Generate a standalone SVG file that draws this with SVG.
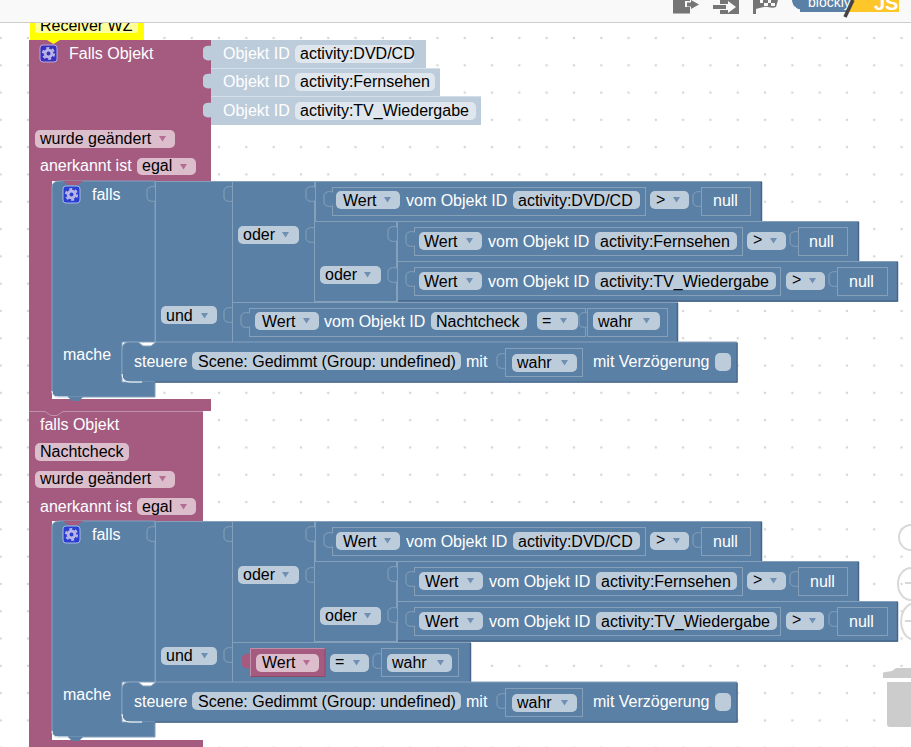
<svg xmlns="http://www.w3.org/2000/svg" xmlns:xlink="http://www.w3.org/1999/xlink" width="911" height="747" viewBox="0 0 911 747">
<style>
text{font-family:"Liberation Sans",Arial,sans-serif;font-size:16px;fill:#fff}
.k{fill:#000}
.b{fill:#5b80a5;stroke:#84a0bb;stroke-width:1}
.dk{fill:none;stroke:#47658a;stroke-width:1.500}
.in{fill:none;stroke:#86a0ba;stroke-width:1}
.pb{fill:#bdccdb}
.pm{fill:#dbbdcc}
.pf{fill:#dfe6ed}
.am{fill:#a55b80}
.ab{fill:#5b80a5}
.sock{fill:#5b80a5;stroke:#86a0ba;stroke-width:1}
.ad{fill:#6f90b3}
.sd{fill:#b46d90}
.gi{fill:#757575}
.ctl{fill:none;stroke:#d8d8d8;stroke-width:2}
</style>
<defs>
<pattern id="grid" patternUnits="userSpaceOnUse" x="-13" y="-3" width="27.3" height="27.3"><circle cx="13.65" cy="13.65" r="1.3" fill="#d6d6d6"/></pattern>
<path id="tab" d="M9,0C4,-1 1,0 0,3V11C1,14 4,15 9,14z"/>
<path id="sk" d="M9,0C4,-1 1,0 0,3V11C1,14 4,15 9,14"/>
<path id="ar" d="M0,0h7l-3.500,5.500z"/>
<g id="gear"><circle cx="0" cy="0" r="3.400" fill="none" stroke="#b9b6e6" stroke-width="2.800"/><circle cx="0" cy="0" r="5.600" fill="none" stroke="#b9b6e6" stroke-width="2" stroke-dasharray="3 2.860"/></g>
</defs>
<rect width="911" height="747" fill="#fff"/>
<rect y="23" width="911" height="724" fill="url(#grid)"/>
<g id="toolbar">
<rect width="911" height="22" fill="#f9f9f9"/>
<rect y="22" width="911" height="1" fill="#ccc"/>
<path class="gi" d="M673,0h17v1h-5v6h5v6.500h-17z"/>
<path class="gi" d="M691,0l8,4.500l-8,4.500v-2.500h-4v-4h4z"/>
<path class="gi" d="M720,0h19v14h-19v-4h8v3l8,-6l-8,-6v3h-8z"/>
<path class="gi" d="M713,5h13v4h-13z"/>
<path class="gi" d="M753,0h3v14h-3z"/>
<path class="gi" d="M756,0h22l-2,7c-5,2 -8,-1 -12,0c-3,1 -6,1 -8,2z"/>
<path d="M760,0h3v3h-3zM768,0h3v3h-3zM764,3h4v3h-4zM771,3h4v3h-4z" fill="#f9f9f9"/>
<path fill="#5b80a5" d="M792,0h62l-7,12H800v-3c-2,1 -4,-2 -6,-3c-1,-2 -2,-4 -2,-6z"/>
<path fill="#ffc629" d="M853,0h46v12h-53z"/>
<text x="808" y="7" style="font-size:14px">blockly</text>
<text x="874" y="10" style="font-size:20px;font-weight:bold">JS</text>
<path d="M853,0L845,17" stroke="#444" stroke-width="3.500" fill="none"/>
</g>
<g id="controls">
<path class="ctl" d="M911,525a12,12.500 0 0 0 0,25"/>
<path class="ctl" d="M911,568a13,16 0 0 0 0,32 M905,583h6"/>
<path class="ctl" d="M911,604a13,18 0 0 0 0,35 M905,621h6"/>
<path fill="#ccc" d="M883,678v-5q0,-1 3,-1l6,-1l4,-3h15v10z M887,682h24v45h-21q-3,0 -3,-3z"/>
</g>

<g id="comment">
<rect x="30" y="23" width="114" height="17" fill="#ff0"/>
<path d="M47,40h13l-6.500,4z" fill="#ff0"/>
<path d="M35,23h103v7a3,3 0 0 1 -3,3H38a3,3 0 0 1 -3,-3z" fill="#ffff9c"/>
<clipPath id="cc"><rect x="30" y="23" width="114" height="17"/></clipPath>
<text class="k" x="40" y="31" clip-path="url(#cc)">Receiver WZ</text>
</g>

<g id="trigger1">
<path class="am" d="M29,40H211V181H52V399H211V411H29Z"/>
<path d="M47,40h13l-6.500,4z" fill="#ff0"/>
<g class="pb">
<rect x="211" y="40" width="215" height="28"/><rect x="211" y="68" width="229" height="28"/><rect x="211" y="97" width="270" height="28"/>
<use xlink:href="#tab" x="203" y="46"/><use xlink:href="#tab" x="203" y="74"/><use xlink:href="#tab" x="203" y="103"/>
</g>
<path d="M211,68.500h229M211,96.500h270" stroke="#d3dee8"/>
<rect x="40" y="45" width="17" height="17" rx="3" fill="#3b2fc0" stroke="#b7a9dd"/>
<use xlink:href="#gear" x="48.500" y="53.500"/>
<text x="69" y="59">Falls Objekt</text>
<text x="223" y="59">Objekt ID</text><text x="223" y="87">Objekt ID</text><text x="223" y="116">Objekt ID</text>
<rect class="pf" x="295" y="45" width="119" height="18" rx="5"/><text class="k" x="300" y="59">activity:DVD/CD</text>
<rect class="pf" x="295" y="73" width="140" height="18" rx="5"/><text class="k" x="300" y="87">activity:Fernsehen</text>
<rect class="pf" x="295" y="102" width="181" height="18" rx="5"/><text class="k" x="300" y="116">activity:TV_Wiedergabe</text>
<rect class="pm" x="35" y="130" width="140" height="18" rx="5"/><text class="k" x="40" y="144">wurde geändert</text><use class="sd" xlink:href="#ar" x="159" y="136"/>
<text x="40" y="171">anerkannt ist</text>
<rect class="pm" x="137" y="158" width="59" height="17" rx="5"/><text class="k" x="142" y="171">egal</text><use class="sd" xlink:href="#ar" x="180" y="164"/>
</g>

<g id="if1">
<path class="b" d="M60,181H155V342H122V382H155V397H58q-6,0 -6,-6V187q0,-6 8,-6z"/>
<path d="M63,181l5,4h10l5,-4z" fill="#a55b80"/>
<path class="ab" d="M68,397l4,4h7l4,-4z"/>
<path d="M52,391q0,6 6,6h10" fill="none" stroke="#fff" stroke-width="1"/>
<rect x="63" y="186" width="17" height="17" rx="3" fill="#2a3fd0" stroke="#a8b8e8"/>
<use xlink:href="#gear" x="71.500" y="194.500"/>
<text x="92" y="200">falls</text>
<text x="63" y="360">mache</text>
<use class="sock" xlink:href="#sk" x="147" y="187"/>
</g>
<g id="and1">
<rect class="b" x="155.500" y="181.500" width="77" height="161"/>
<rect class="pb" x="161" y="306" width="56" height="18" rx="5"/><text class="k" x="166" y="321">und</text><use class="ad" xlink:href="#ar" x="201" y="313"/>
<use class="sock" xlink:href="#sk" x="224" y="187"/><use class="sock" xlink:href="#sk" x="224" y="308"/>
</g>
<g id="or1">
<rect class="b" x="232.500" y="181.500" width="82" height="121"/>
<rect class="pb" x="238" y="226" width="61" height="18" rx="5"/><text class="k" x="243" y="240">oder</text><use class="ad" xlink:href="#ar" x="282" y="232"/>
<use class="sock" xlink:href="#sk" x="306" y="187"/><use class="sock" xlink:href="#sk" x="306" y="228"/>
</g>
<g id="or1b">
<rect class="b" x="314.500" y="221.500" width="82" height="80"/>
<rect class="pb" x="320" y="266" width="61" height="18" rx="5"/><text class="k" x="325" y="280">oder</text><use class="ad" xlink:href="#ar" x="364" y="272"/>
<use class="sock" xlink:href="#sk" x="388" y="227"/><use class="sock" xlink:href="#sk" x="388" y="268"/>
</g>
<g id="cmp1a">
<rect class="b" x="315.500" y="181.500" width="446" height="40"/>
<path class="dk" d="M761.500,182V221"/>
<rect class="in" x="332.500" y="187.500" width="313" height="28"/>
<use class="sock" xlink:href="#sk" x="324" y="192"/>
<rect class="pb" x="336" y="191" width="64" height="18" rx="5"/><text class="k" x="343" y="206">Wert</text><use class="ad" xlink:href="#ar" x="384" y="197"/>
<text x="406" y="206">vom Objekt ID</text>
<rect class="pb" x="513" y="191" width="127" height="18" rx="5"/><text class="k" x="518" y="206">activity:DVD/CD</text>
<rect class="pb" x="650" y="191" width="39" height="18" rx="5"/><text class="k" x="656" y="205">&gt;</text><use class="ad" xlink:href="#ar" x="673" y="197"/>
<use class="sock" xlink:href="#sk" x="693" y="192"/>
<rect class="in" x="701.500" y="187.500" width="49" height="28"/><text x="713" y="206">null</text>
</g>
<g id="cmp1b">
<rect class="b" x="397.500" y="221.500" width="461" height="40"/>
<path class="dk" d="M858.500,222V261"/>
<rect class="in" x="414.500" y="227.500" width="328" height="28"/>
<use class="sock" xlink:href="#sk" x="406" y="232"/>
<rect class="pb" x="419" y="232" width="63" height="18" rx="5"/><text class="k" x="424" y="247">Wert</text><use class="ad" xlink:href="#ar" x="466" y="238"/>
<text x="488" y="247">vom Objekt ID</text>
<rect class="pb" x="595" y="232" width="142" height="18" rx="5"/><text class="k" x="600" y="247">activity:Fernsehen</text>
<rect class="pb" x="747" y="232" width="39" height="18" rx="5"/><text class="k" x="753" y="245">&gt;</text><use class="ad" xlink:href="#ar" x="770" y="238"/>
<use class="sock" xlink:href="#sk" x="790" y="232"/>
<rect class="in" x="798.500" y="227.500" width="49" height="28"/><text x="809" y="247">null</text>
</g>
<g id="cmp1c">
<rect class="b" x="397.500" y="261.500" width="500" height="40"/>
<path class="dk" d="M897.500,262V301H398"/>
<rect class="in" x="414.500" y="267.500" width="366" height="28"/>
<use class="sock" xlink:href="#sk" x="406" y="272"/>
<rect class="pb" x="419" y="272" width="63" height="18" rx="5"/><text class="k" x="424" y="287">Wert</text><use class="ad" xlink:href="#ar" x="466" y="278"/>
<text x="488" y="287">vom Objekt ID</text>
<rect class="pb" x="595" y="272" width="181" height="18" rx="5"/><text class="k" x="600" y="287">activity:TV_Wiedergabe</text>
<rect class="pb" x="786" y="272" width="39" height="18" rx="5"/><text class="k" x="792" y="285">&gt;</text><use class="ad" xlink:href="#ar" x="809" y="278"/>
<use class="sock" xlink:href="#sk" x="829" y="272"/>
<rect class="in" x="837.500" y="267.500" width="50" height="28"/><text x="849" y="287">null</text>
</g>
<g id="cmp1d">
<rect class="b" x="232.500" y="302.500" width="445" height="40"/>
<path class="dk" d="M677.500,303V342"/>
<rect class="in" x="249.500" y="308.500" width="336" height="28"/>
<use class="sock" xlink:href="#sk" x="241" y="313"/>
<rect class="pb" x="255" y="312" width="64" height="18" rx="5"/><text class="k" x="262" y="327">Wert</text><use class="ad" xlink:href="#ar" x="303" y="318"/>
<text x="324" y="327">vom Objekt ID</text>
<rect class="pb" x="431" y="312" width="96" height="18" rx="5"/><text class="k" x="436" y="327">Nachtcheck</text>
<rect class="pb" x="537" y="312" width="41" height="18" rx="5"/><text class="k" x="542" y="326">=</text><use class="ad" xlink:href="#ar" x="560" y="318"/>
<use class="sock" xlink:href="#sk" x="579" y="313"/>
<rect class="in" x="587.500" y="308.500" width="80" height="28"/>
<rect class="pb" x="593" y="312" width="67" height="18" rx="5"/><text class="k" x="598" y="327">wahr</text><use class="ad" xlink:href="#ar" x="643" y="318"/>
</g>
<g id="steuere1">
<path class="b" d="M130,342H138l5,4h8l5,-4H737V382H130q-8,0 -8,-8V350q0,-8 8,-8z"/>
<path class="dk" d="M737,343V382H155"/>
<path class="ab" d="M142,382l4,4h6l4,-4z"/>
<path d="M122,374q0,8 8,8h12" fill="none" stroke="#fff"/>
<text x="134" y="367">steuere</text>
<rect class="pb" x="192" y="352" width="269" height="18" rx="5"/><text class="k" x="198" y="367">Scene: Gedimmt (Group: undefined)</text>
<text x="466" y="367">mit</text>
<use class="sock" xlink:href="#sk" x="497" y="354"/>
<rect class="in" x="505.500" y="348.500" width="77" height="28"/>
<rect class="pb" x="512" y="354" width="65" height="18" rx="5"/><text class="k" x="517" y="368">wahr</text><use class="ad" xlink:href="#ar" x="561" y="360"/>
<text x="593" y="367">mit Verzögerung</text>
<rect class="pb" x="715" y="353" width="16" height="18" rx="5"/>
</g>

<g id="trigger2">
<path class="am" d="M29,411H203V521H52V740H203V747H29Z"/>
<path d="M29,411.500H45l6,4h6l6,-4H203" fill="none" stroke="#c08fa8"/>
<text x="40" y="430">falls Objekt</text>
<rect class="pm" x="35" y="443" width="94" height="18" rx="5"/><text class="k" x="40" y="457">Nachtcheck</text>
<rect class="pm" x="35" y="471" width="140" height="17" rx="5"/><text class="k" x="40" y="484">wurde geändert</text><use class="sd" xlink:href="#ar" x="159" y="476"/>
<text x="40" y="512">anerkannt ist</text>
<rect class="pm" x="137" y="498" width="59" height="17" rx="5"/><text class="k" x="142" y="512">egal</text><use class="sd" xlink:href="#ar" x="180" y="504"/>
</g>

<g id="if2">
<path class="b" d="M60,521H155V682H122V722H155V737H58q-6,0 -6,-6V527q0,-6 8,-6z"/>
<path d="M63,521l5,4h10l5,-4z" fill="#a55b80"/>
<path class="ab" d="M68,737l4,4h7l4,-4z"/>
<path d="M52,731q0,6 6,6h10" fill="none" stroke="#fff" stroke-width="1"/>
<rect x="63" y="526" width="17" height="17" rx="3" fill="#2a3fd0" stroke="#a8b8e8"/>
<use xlink:href="#gear" x="71.500" y="534.500"/>
<text x="92" y="540">falls</text>
<text x="63" y="700">mache</text>
<use class="sock" xlink:href="#sk" x="147" y="527"/>
</g>
<g id="and2">
<rect class="b" x="155.500" y="521.500" width="77" height="161"/>
<rect class="pb" x="161" y="647" width="56" height="18" rx="5"/><text class="k" x="166" y="661">und</text><use class="ad" xlink:href="#ar" x="201" y="653"/>
<use class="sock" xlink:href="#sk" x="224" y="527"/><use class="sock" xlink:href="#sk" x="224" y="648"/>
</g>
<g id="or2">
<rect class="b" x="232.500" y="521.500" width="82" height="121"/>
<rect class="pb" x="238" y="566" width="61" height="18" rx="5"/><text class="k" x="243" y="580">oder</text><use class="ad" xlink:href="#ar" x="282" y="572"/>
<use class="sock" xlink:href="#sk" x="306" y="527"/><use class="sock" xlink:href="#sk" x="306" y="568"/>
</g>
<g id="or2b">
<rect class="b" x="314.500" y="561.500" width="82" height="80"/>
<rect class="pb" x="320" y="607" width="61" height="18" rx="5"/><text class="k" x="325" y="621">oder</text><use class="ad" xlink:href="#ar" x="364" y="613"/>
<use class="sock" xlink:href="#sk" x="388" y="567"/><use class="sock" xlink:href="#sk" x="388" y="608"/>
</g>
<g id="cmp2a">
<rect class="b" x="315.500" y="521.500" width="446" height="40"/>
<path class="dk" d="M761.500,522V561"/>
<rect class="in" x="332.500" y="527.500" width="313" height="28"/>
<use class="sock" xlink:href="#sk" x="324" y="533"/>
<rect class="pb" x="336" y="532" width="64" height="18" rx="5"/><text class="k" x="343" y="547">Wert</text><use class="ad" xlink:href="#ar" x="384" y="538"/>
<text x="406" y="547">vom Objekt ID</text>
<rect class="pb" x="513" y="532" width="127" height="18" rx="5"/><text class="k" x="518" y="547">activity:DVD/CD</text>
<rect class="pb" x="650" y="532" width="39" height="18" rx="5"/><text class="k" x="656" y="545">&gt;</text><use class="ad" xlink:href="#ar" x="673" y="538"/>
<use class="sock" xlink:href="#sk" x="693" y="533"/>
<rect class="in" x="701.500" y="527.500" width="49" height="28"/><text x="713" y="547">null</text>
</g>
<g id="cmp2b">
<rect class="b" x="397.500" y="561.500" width="461" height="40"/>
<path class="dk" d="M858.500,562V601"/>
<rect class="in" x="414.500" y="567.500" width="328" height="28"/>
<use class="sock" xlink:href="#sk" x="406" y="572"/>
<rect class="pb" x="419" y="572" width="64" height="18" rx="5"/><text class="k" x="425" y="587">Wert</text><use class="ad" xlink:href="#ar" x="467" y="578"/>
<text x="489" y="587">vom Objekt ID</text>
<rect class="pb" x="596" y="572" width="141" height="18" rx="5"/><text class="k" x="601" y="587">activity:Fernsehen</text>
<rect class="pb" x="747" y="572" width="39" height="18" rx="5"/><text class="k" x="753" y="585">&gt;</text><use class="ad" xlink:href="#ar" x="770" y="578"/>
<use class="sock" xlink:href="#sk" x="790" y="572"/>
<rect class="in" x="798.500" y="567.500" width="49" height="28"/><text x="810" y="587">null</text>
</g>
<g id="cmp2c">
<rect class="b" x="397.500" y="601.500" width="500" height="40"/>
<path class="dk" d="M897.500,602V641H398"/>
<rect class="in" x="414.500" y="607.500" width="366" height="28"/>
<use class="sock" xlink:href="#sk" x="406" y="612"/>
<rect class="pb" x="419" y="612" width="64" height="18" rx="5"/><text class="k" x="425" y="627">Wert</text><use class="ad" xlink:href="#ar" x="467" y="618"/>
<text x="489" y="627">vom Objekt ID</text>
<rect class="pb" x="596" y="612" width="181" height="18" rx="5"/><text class="k" x="601" y="627">activity:TV_Wiedergabe</text>
<rect class="pb" x="786" y="612" width="38" height="18" rx="5"/><text class="k" x="792" y="625">&gt;</text><use class="ad" xlink:href="#ar" x="809" y="618"/>
<use class="sock" xlink:href="#sk" x="829" y="612"/>
<rect class="in" x="837.500" y="607.500" width="50" height="28"/><text x="849" y="627">null</text>
</g>
<g id="cmp2d">
<rect class="b" x="232.500" y="642.500" width="238" height="40"/>
<path class="dk" d="M470.500,643V682"/>
<use class="am" xlink:href="#tab" x="242" y="654"/>
<rect x="250" y="648" width="75" height="29" fill="#a55b80"/>
<path d="M250.500,677V648.500H325" fill="none" stroke="#c08fa8"/>
<path d="M325,648.500V676.500H250.500" fill="none" stroke="#8a4a6a"/>
<rect class="pm" x="256" y="654" width="63" height="18" rx="5"/><text class="k" x="262" y="668">Wert</text><use class="sd" xlink:href="#ar" x="303" y="660"/>
<rect class="pb" x="330" y="654" width="39" height="18" rx="5"/><text class="k" x="335" y="667">=</text><use class="ad" xlink:href="#ar" x="353" y="660"/>
<use class="sock" xlink:href="#sk" x="373" y="654"/>
<rect class="in" x="381.500" y="648.500" width="77" height="28"/>
<rect class="pb" x="387" y="654" width="65" height="18" rx="5"/><text class="k" x="392" y="668">wahr</text><use class="ad" xlink:href="#ar" x="437" y="660"/>
</g>
<g id="steuere2">
<path class="b" d="M130,682H138l5,4h8l5,-4H737V722H130q-8,0 -8,-8V690q0,-8 8,-8z"/>
<path class="dk" d="M737,683V722H155"/>
<path class="ab" d="M142,722l4,4h6l4,-4z"/>
<path d="M122,714q0,8 8,8h12" fill="none" stroke="#fff"/>
<text x="134" y="707">steuere</text>
<rect class="pb" x="192" y="692" width="269" height="18" rx="5"/><text class="k" x="198" y="707">Scene: Gedimmt (Group: undefined)</text>
<text x="466" y="707">mit</text>
<use class="sock" xlink:href="#sk" x="497" y="694"/>
<rect class="in" x="505.500" y="688.500" width="77" height="28"/>
<rect class="pb" x="512" y="694" width="65" height="18" rx="5"/><text class="k" x="517" y="708">wahr</text><use class="ad" xlink:href="#ar" x="561" y="700"/>
<text x="593" y="707">mit Verzögerung</text>
<rect class="pb" x="715" y="693" width="16" height="18" rx="5"/>
</g>
</svg>
